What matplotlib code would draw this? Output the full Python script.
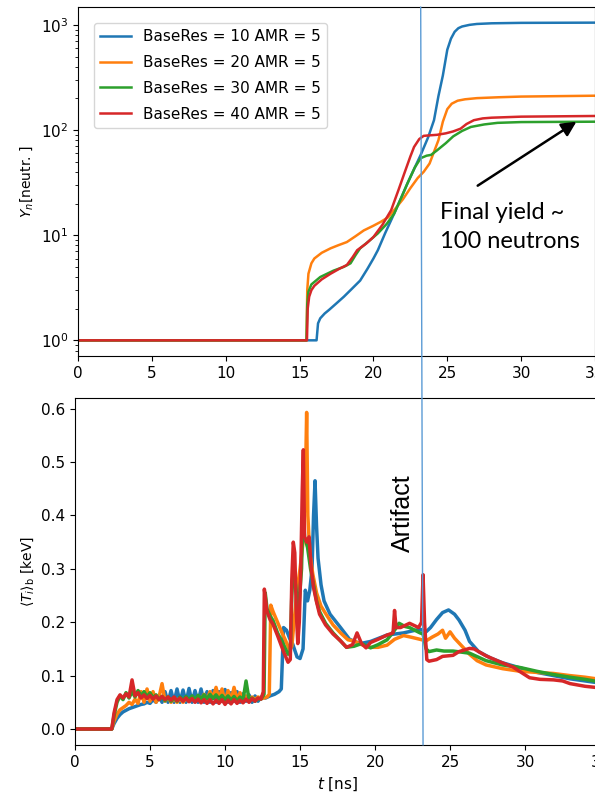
import matplotlib
matplotlib.use("Agg")
import matplotlib.pyplot as plt
from matplotlib.patches import ConnectionPatch

# --- top panel: neutron yield (log scale) ---
labels = ["BaseRes = 10 AMR = 5", "BaseRes = 20 AMR = 5",
          "BaseRes = 30 AMR = 5", "BaseRes = 40 AMR = 5"]
colors = ["#1f77b4", "#ff7f0e", "#2ca02c", "#d62728"]

t_y10 = [0, 16.15, 16.25, 16.4, 16.7, 17.0, 17.5, 18.0, 18.5, 19.1, 19.6, 20.0,
         20.3, 20.8, 21.4, 21.9, 22.3, 22.8, 23.2, 23.7, 24.1, 24.4, 24.7, 25.0,
         25.25, 25.5, 25.75, 26.0, 26.5, 27.0, 28.0, 30.0, 35.0]
y_y10 = [1, 1, 1.45, 1.62, 1.8, 1.95, 2.25, 2.6, 3.05, 3.7, 4.8, 6.0,
         7.2, 10.5, 16, 23, 31, 44, 58, 85, 124, 210, 330, 580,
         740, 860, 930, 965, 1000, 1020, 1035, 1045, 1050]

t_y20 = [0, 15.47, 15.52, 15.6, 15.8, 16.0, 16.5, 17.1, 17.6, 18.2, 18.8, 19.35,
         20.0, 20.5, 21.0, 21.5, 22.0, 22.5, 23.0, 23.4, 23.8, 24.1, 24.4, 24.7,
         25.0, 25.3, 25.7, 26.2, 27.0, 28.5, 30.0, 35.0]
y_y20 = [1, 1, 3.0, 4.3, 5.4, 6.0, 6.8, 7.5, 8.0, 8.6, 9.8, 11.1,
         12.3, 13.4, 14.8, 18, 22, 28, 35, 40, 48, 62, 80, 120,
         158, 178, 190, 196, 201, 205, 208, 212]

t_y30 = [0, 15.47, 15.52, 15.6, 15.8, 16.4, 17.3, 18.0, 18.45, 18.8, 19.1, 19.7,
         20.3, 20.9, 21.4, 21.9, 22.3, 22.8, 23.2, 23.6, 23.9, 24.3, 24.9, 25.4,
         26.0, 26.6, 27.5, 28.4, 30.0, 35.0]
y_y30 = [1, 1, 2.2, 2.9, 3.4, 4.0, 4.6, 5.0, 5.4, 6.5, 7.5, 8.8,
         10.4, 12.8, 16, 23, 31, 44, 54, 57, 58, 64, 75, 87,
         98, 107, 113, 117, 119, 120]

t_y40 = [0, 15.5, 15.55, 15.65, 15.8, 16.0, 16.5, 17.1, 17.7, 18.2, 18.6, 18.9,
         19.5, 20.0, 20.6, 21.2, 21.7, 22.1, 22.5, 22.75, 23.1, 23.4, 23.8, 24.3,
         24.9, 25.4, 25.9, 26.3, 26.8, 27.4, 28.0, 30.0, 35.0]
y_y40 = [1, 1, 2.0, 2.6, 3.0, 3.3, 3.8, 4.3, 4.8, 5.2, 6.2, 7.2,
         8.3, 9.6, 12.5, 17.3, 27, 39, 56, 69, 82, 88, 89, 90,
         93, 97, 103, 114, 124, 129, 131, 134, 136]

# --- bottom panel: burn-averaged ion temperature ---
# noisy early section sampled every 0.2 ns from 2.6 to 12.4 ns
t_early = [2.6, 2.8, 3.0, 3.2, 3.4, 3.6, 3.8, 4.0, 4.2, 4.4, 4.6, 4.8, 5.0, 5.2,
           5.4, 5.6, 5.8, 6.0, 6.2, 6.4, 6.6, 6.8, 7.0, 7.2, 7.4, 7.6, 7.8, 8.0,
           8.2, 8.4, 8.6, 8.8, 9.0, 9.2, 9.4, 9.6, 9.8, 10.0, 10.2, 10.4, 10.6,
           10.8, 11.0, 11.2, 11.4, 11.6, 11.8, 12.0, 12.2, 12.4]

ti10_early = [0.01, 0.02, 0.027, 0.032, 0.035, 0.038, 0.04, 0.042, 0.044, 0.046,
              0.047, 0.05, 0.048, 0.055, 0.05, 0.062, 0.05, 0.07, 0.05, 0.072,
              0.05, 0.075, 0.05, 0.073, 0.05, 0.076, 0.05, 0.072, 0.05, 0.075,
              0.05, 0.07, 0.05, 0.072, 0.05, 0.07, 0.052, 0.074, 0.05, 0.068,
              0.052, 0.07, 0.05, 0.066, 0.052, 0.064, 0.05, 0.062, 0.052, 0.06]
ti20_early = [0.015, 0.028, 0.036, 0.04, 0.044, 0.05, 0.046, 0.056, 0.048, 0.07,
              0.05, 0.075, 0.052, 0.07, 0.05, 0.06, 0.085, 0.052, 0.06, 0.05,
              0.058, 0.05, 0.057, 0.05, 0.058, 0.052, 0.06, 0.053, 0.062, 0.055,
              0.065, 0.055, 0.07, 0.058, 0.078, 0.055, 0.075, 0.05, 0.072, 0.052,
              0.078, 0.055, 0.068, 0.05, 0.062, 0.055, 0.06, 0.055, 0.06, 0.057]
ti30_early = [0.025, 0.05, 0.062, 0.055, 0.068, 0.058, 0.07, 0.06, 0.072, 0.062,
              0.07, 0.06, 0.068, 0.058, 0.064, 0.055, 0.061, 0.053, 0.06, 0.052,
              0.059, 0.052, 0.06, 0.053, 0.061, 0.054, 0.062, 0.055, 0.063, 0.056,
              0.064, 0.057, 0.065, 0.057, 0.064, 0.056, 0.063, 0.055, 0.062, 0.054,
              0.061, 0.053, 0.06, 0.054, 0.09, 0.055, 0.058, 0.052, 0.057, 0.056]
ti40_early = [0.03, 0.055, 0.064, 0.058, 0.066, 0.06, 0.092, 0.062, 0.068, 0.058,
              0.064, 0.057, 0.063, 0.056, 0.062, 0.055, 0.061, 0.055, 0.06, 0.054,
              0.06, 0.053, 0.058, 0.052, 0.058, 0.051, 0.057, 0.05, 0.056, 0.049,
              0.055, 0.048, 0.055, 0.047, 0.054, 0.048, 0.055, 0.046, 0.054, 0.047,
              0.055, 0.048, 0.054, 0.049, 0.056, 0.05, 0.057, 0.052, 0.058, 0.056]

t_ti10_late = [12.7, 13.0, 13.3, 13.6, 13.75, 13.9, 14.1, 14.3, 14.5, 14.8, 15.0,
               15.2, 15.35, 15.5, 15.65, 15.8, 15.9, 16.0, 16.1, 16.2, 16.4, 16.6,
               17.0, 17.7, 18.3, 19.0, 19.7, 20.8, 21.9, 23.0, 23.4, 23.7, 24.1,
               24.5, 24.9, 25.3, 25.6, 26.0, 26.3, 26.9, 27.7, 28.5, 29.6, 30.8,
               31.9, 33.0, 34.0, 35.0]
ti10_late = [0.058, 0.062, 0.065, 0.07, 0.075, 0.19, 0.185, 0.17, 0.16, 0.135, 0.132,
             0.15, 0.26, 0.24, 0.26, 0.3, 0.4, 0.465, 0.38, 0.32, 0.27, 0.24,
             0.215, 0.19, 0.168, 0.16, 0.164, 0.176, 0.18, 0.187, 0.182, 0.19, 0.205,
             0.218, 0.223, 0.215, 0.204, 0.185, 0.164, 0.145, 0.133, 0.124, 0.115,
             0.106, 0.1, 0.094, 0.09, 0.086]

t_ti20_late = [12.6, 12.8, 12.95, 13.05, 13.2, 13.5, 13.8, 14.0, 14.3, 14.45, 14.6,
               14.8, 15.0, 15.2, 15.35, 15.44, 15.52, 15.65, 15.85, 16.1, 16.4,
               16.8, 17.2, 17.7, 18.2, 18.6, 19.1, 19.7, 20.2, 20.8, 21.3, 21.9,
               22.4, 23.0, 23.4, 23.8, 24.2, 24.5, 24.7, 25.0, 25.3, 25.7, 26.3,
               26.8, 27.4, 28.5, 29.7, 30.8, 31.9, 33.0, 34.0, 35.0]
ti20_late = [0.058, 0.06, 0.065, 0.232, 0.22, 0.2, 0.18, 0.168, 0.148, 0.155, 0.2,
             0.26, 0.3, 0.35, 0.45, 0.593, 0.4, 0.33, 0.29, 0.255, 0.23,
             0.212, 0.195, 0.18, 0.167, 0.165, 0.158, 0.153, 0.153, 0.157, 0.168,
             0.175, 0.172, 0.168, 0.165, 0.172, 0.178, 0.185, 0.17, 0.182, 0.17,
             0.158, 0.14, 0.128, 0.12, 0.113, 0.108, 0.106, 0.104, 0.1, 0.097, 0.093]

t_ti30_late = [12.6, 12.68, 12.8, 13.0, 13.2, 13.5, 13.9, 14.2, 14.35, 14.45, 14.55,
               14.7, 14.9, 15.1, 15.2, 15.3, 15.5, 15.7, 15.9, 16.1, 16.3, 16.7,
               17.2, 17.7, 18.1, 18.6, 19.1, 19.7, 20.2, 20.8, 21.3, 21.6, 22.0,
               22.3, 23.0, 23.2, 23.4, 23.6, 24.1, 24.6, 25.2, 26.3, 27.4, 28.5,
               29.7, 30.8, 31.9, 33.0, 34.0, 35.0]
ti30_late = [0.065, 0.255, 0.225, 0.212, 0.203, 0.18, 0.158, 0.14, 0.145, 0.25, 0.3,
             0.27, 0.22, 0.3, 0.42, 0.36, 0.34, 0.3, 0.27, 0.24, 0.22, 0.198,
             0.18, 0.165, 0.153, 0.155, 0.16, 0.152, 0.158, 0.167, 0.185, 0.198,
             0.192, 0.19, 0.18, 0.178, 0.15, 0.145, 0.148, 0.146, 0.146, 0.142,
             0.128, 0.12, 0.115, 0.108, 0.102, 0.097, 0.093, 0.088]

t_ti40_late = [12.55, 12.62, 12.8, 13.0, 13.2, 13.5, 13.9, 14.2, 14.35, 14.45, 14.55,
               14.65, 14.75, 14.85, 14.95, 15.05, 15.15, 15.22, 15.3, 15.45, 15.6,
               15.75, 15.9, 16.1, 16.3, 16.7, 17.2, 17.7, 18.1, 18.5, 18.8, 19.1,
               19.4, 19.7, 20.2, 20.8, 21.2, 21.3, 21.4, 21.7, 22.3, 22.9, 23.1,
               23.2, 23.3, 23.45, 23.6, 24.1, 24.5, 25.2, 25.6, 26.3, 26.6, 27.4,
               28.3, 29.2, 29.8, 30.3, 31.0, 31.9, 32.5, 33.0, 34.0, 35.0]
ti40_late = [0.07, 0.262, 0.22, 0.205, 0.196, 0.175, 0.145, 0.125, 0.13, 0.28, 0.35,
             0.33, 0.22, 0.16, 0.2, 0.3, 0.45, 0.523, 0.36, 0.35, 0.36,
             0.3, 0.265, 0.238, 0.215, 0.195, 0.178, 0.165, 0.153, 0.158, 0.18, 0.16,
             0.152, 0.162, 0.168, 0.176, 0.18, 0.222, 0.19, 0.19, 0.198, 0.19, 0.2,
             0.289, 0.2, 0.13, 0.127, 0.13, 0.136, 0.138, 0.145, 0.151, 0.15, 0.137,
             0.126, 0.116, 0.105, 0.096, 0.093, 0.092, 0.09, 0.085, 0.08, 0.077]

t_start = [0, 2.45]
ti_start = [0, 0]

t_artifact = 23.2

fig = plt.figure(figsize=(5.95, 8.01), dpi=100)
ax1 = fig.add_axes([0.1311, 0.5556, 0.8689, 0.4357])
ax2 = fig.add_axes([0.1261, 0.0699, 0.8824, 0.4332])

yield_t = [t_y10, t_y20, t_y30, t_y40]
yield_v = [y_y10, y_y20, y_y30, y_y40]
for tt, yy, c, lab in zip(yield_t, yield_v, colors, labels):
    ax1.plot(tt, yy, color=c, lw=1.8, label=lab)
ax1.set_yscale("log")
ax1.set_xlim(0, 35)
ax1.set_ylim(0.71, 1480)
ax1.set_ylabel(r"$Y_n$[neutr. ]", fontsize=10)
ax1.tick_params(labelsize=11)
ax1.legend(loc="upper left", fontsize=11, labelspacing=0.7,
           bbox_to_anchor=(0.016, 0.975))

ax1.annotate("", xy=(33.9, 124), xytext=(26.9, 28.6),
             arrowprops=dict(arrowstyle="-|>", color="black", lw=1.8,
                             mutation_scale=22))
ax1.text(24.5, 12.0, "Final yield ~\n100 neutrons", fontsize=17,
         family="Lato", ha="left", va="center", linespacing=1.5)

early = [ti10_early, ti20_early, ti30_early, ti40_early]
late_t = [t_ti10_late, t_ti20_late, t_ti30_late, t_ti40_late]
late_v = [ti10_late, ti20_late, ti30_late, ti40_late]
for ev, lt, lv, c in zip(early, late_t, late_v, colors):
    ax2.plot(t_start + t_early + lt, ti_start + ev + lv, color=c, lw=2.5)
ax2.set_xlim(0, 35)
ax2.set_ylim(-0.03, 0.62)
ax2.set_xlabel(r"$t$ [ns]", fontsize=11)
ax2.set_ylabel(r"$\langle T_i \rangle_\mathrm{b}$ [keV]", fontsize=10)
ax2.tick_params(labelsize=11)
ax2.text(21.85, 0.405, "Artifact", rotation=90, fontsize=18,
         family="Liberation Sans", ha="center", va="center")

# thin marker line running through both panels
con = ConnectionPatch(xyA=(t_artifact, 1480), coordsA=ax1.transData,
                      xyB=(t_artifact, -0.03), coordsB=ax2.transData,
                      color="#5b9bd5", lw=1.0)
fig.add_artist(con)

fig.savefig("out.png", dpi=100)
